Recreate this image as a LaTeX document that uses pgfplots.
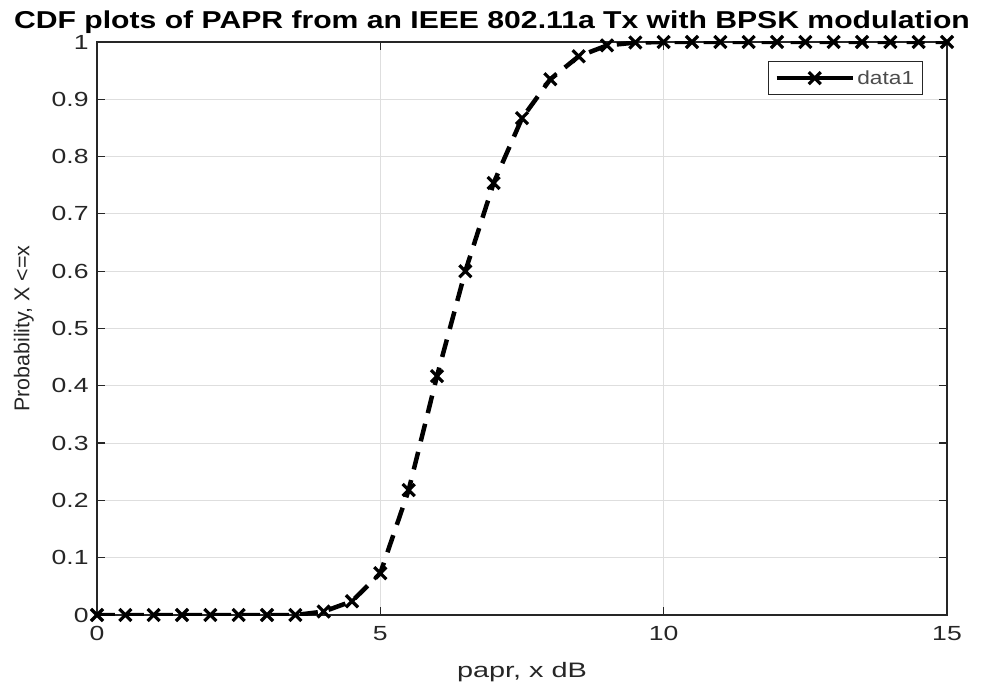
\documentclass[border=0pt]{standalone}
\usepackage{pgfplots}
\pgfplotsset{compat=1.18}
\usepackage{fontspec}
\setmainfont{Liberation Sans}
\definecolor{axgray}{gray}{0.15}
\begin{document}
\begin{tikzpicture}
\begin{axis}[
  scale only axis, width=850bp, height=573bp,
  xmin=0, xmax=15, ymin=0, ymax=1,
  xtick={0,5,10,15},
  ytick={0,0.1,0.2,0.3,0.4,0.5,0.6,0.7,0.8,0.9,1},
  yticklabels={0,0.1,0.2,0.3,0.4,0.5,0.6,0.7,0.8,0.9,1},
  grid=major,
  major grid style={color=black!13, line width=0.8bp},
  axis line style={color=axgray, line width=1.2bp},
  tick style={color=axgray, line width=1.2bp},
  tick align=inside, major tick length=8bp,
  /pgf/number format/assume math mode=true,
  ticklabel style={font=\fontsize{20.5}{20.5}\selectfont, text=axgray, xscale=1.3},
  xticklabel style={yshift=-8bp},
  yticklabel style={xshift=-3bp},
  xlabel={papr, x dB},
  ylabel={Probability, X <=x},
  xlabel style={font=\fontsize{21}{21}\selectfont, text=axgray, xscale=1.38, yshift=-15bp},
  ylabel style={font=\fontsize{21.5}{21.5}\selectfont, text=axgray, yshift=10bp},
  legend style={at={(0.9718,0.9668)}, anchor=north east, draw=axgray, line width=1bp,
    font=\fontsize{19}{19}\selectfont, text=black!70, inner xsep=6bp, inner ysep=7bp,
    nodes={xscale=1.2}},
  legend cell align=left,
  legend image code/.code={
    \draw[mark repeat=2, mark phase=2, #1, solid] plot coordinates {(0bp,0bp) (38bp,0bp) (76bp,0bp)};
  },
]
\addplot[black, line width=4.5bp, dash pattern=on 18bp off 11bp, mark=x, mark size=8.5bp,
  mark options={solid, line width=3.2bp}]
coordinates {
(0,0) (0.5,0) (1,0) (1.5,0) (2,0) (2.5,0) (3,0) (3.5,0)
(4,0.006) (4.5,0.024) (5,0.073) (5.5,0.218) (6,0.417) (6.5,0.600)
(7,0.754) (7.5,0.867) (8,0.935) (8.5,0.975) (9,0.994) (9.5,0.999)
(10,1) (10.5,1) (11,1) (11.5,1) (12,1) (12.5,1) (13,1) (13.5,1)
(14,1) (14.5,1) (15,1)
};
\addlegendentry{data1}
\end{axis}
\node[anchor=base, font=\bfseries\fontsize{24.5}{24.5}\selectfont, text=black, xscale=1.235] at (395bp,586bp)
  {CDF plots of PAPR from an IEEE 802.11a Tx with BPSK modulation};
\pgfresetboundingbox
\path (-97bp,-69bp) rectangle (885bp,615bp);
\end{tikzpicture}
\end{document}
